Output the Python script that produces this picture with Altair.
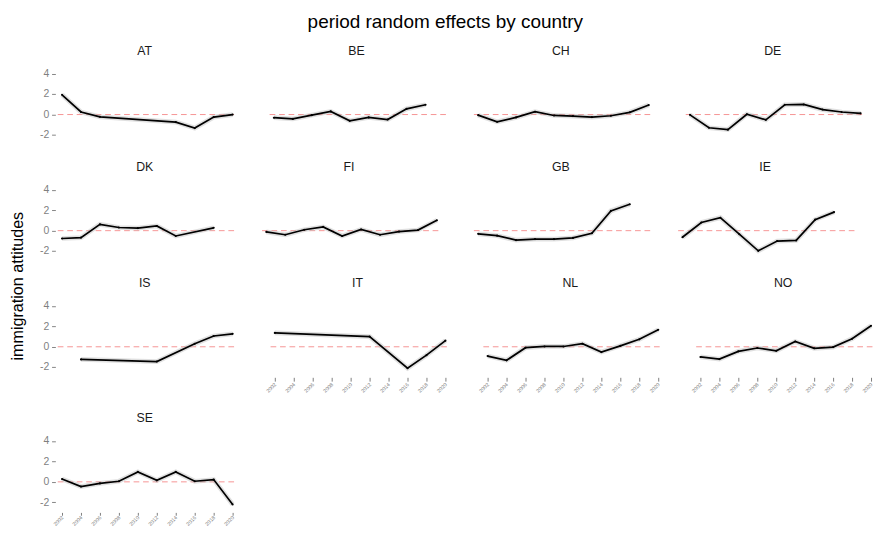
import altair as alt
import pandas as pd

countries = ["AT", "BE", "CH", "DE", "DK", "FI", "GB", "IE", "IS", "IT", "NL", "NO", "SE"]

years = {
    "AT": [2002, 2004, 2006, 2014, 2016, 2018, 2020],
    "BE": [2002, 2004, 2006, 2008, 2010, 2012, 2014, 2016, 2018],
    "CH": [2002, 2004, 2006, 2008, 2010, 2012, 2014, 2016, 2018, 2020],
    "DE": [2002, 2004, 2006, 2008, 2010, 2012, 2014, 2016, 2018, 2020],
    "DK": [2002, 2004, 2006, 2008, 2010, 2012, 2014, 2018],
    "FI": [2002, 2004, 2006, 2008, 2010, 2012, 2014, 2016, 2018, 2020],
    "GB": [2002, 2004, 2006, 2008, 2010, 2012, 2014, 2016, 2018],
    "IE": [2002, 2004, 2006, 2008, 2010, 2012, 2014, 2016, 2018],
    "IS": [2004, 2012, 2016, 2018, 2020],
    "IT": [2002, 2012, 2016, 2018, 2020],
    "NL": [2002, 2004, 2006, 2008, 2010, 2012, 2014, 2016, 2018, 2020],
    "NO": [2002, 2004, 2006, 2008, 2010, 2012, 2014, 2016, 2018, 2020],
    "SE": [2002, 2004, 2006, 2008, 2010, 2012, 2014, 2016, 2018, 2020],
}

effects = {
    "AT": [1.94, 0.25, -0.22, -0.74, -1.33, -0.25, 0.0],
    "BE": [-0.31, -0.43, -0.06, 0.31, -0.62, -0.28, -0.49, 0.56, 0.96],
    "CH": [-0.06, -0.71, -0.28, 0.28, -0.09, -0.15, -0.25, -0.12, 0.22, 0.93],
    "DE": [-0.03, -1.30, -1.48, 0.03, -0.52, 0.96, 0.99, 0.49, 0.25, 0.12],
    "DK": [-0.77, -0.68, 0.62, 0.31, 0.25, 0.46, -0.52, 0.28],
    "FI": [-0.12, -0.40, 0.09, 0.37, -0.52, 0.12, -0.40, -0.09, 0.06, 1.02],
    "GB": [-0.31, -0.49, -0.93, -0.83, -0.83, -0.71, -0.25, 1.94, 2.59],
    "IE": [-0.65, 0.80, 1.27, -0.35, -1.98, -1.02, -0.96, 1.08, 1.82],
    "IS": [-1.24, -1.45, 0.30, 1.06, 1.27],
    "IT": [1.36, 1.00, -2.10, -0.82, 0.60],
    "NL": [-0.91, -1.33, -0.09, 0.03, 0.03, 0.30, -0.52, 0.09, 0.73, 1.67],
    "NO": [-1.00, -1.21, -0.45, -0.12, -0.39, 0.52, -0.15, -0.03, 0.79, 2.06],
    "SE": [0.28, -0.46, -0.15, 0.06, 0.98, 0.15, 0.98, 0.06, 0.22, -2.22],
}

year_ticks = [2002, 2004, 2006, 2008, 2010, 2012, 2014, 2016, 2018, 2020]
y_ticks = [-2, 0, 2, 4]

rows = []
for c in countries:
    for yr, v in zip(years[c], effects[c]):
        rows.append({"country": c, "year": yr, "effect": v})
df = pd.DataFrame(rows)
zero_df = pd.DataFrame({"z": [0]})

FONT = "Liberation Sans"
PW, PH = 188.5, 86
XDOM = [2001.3, 2020.15]
YDOM = [-3.0, 5.0]


def panel(country, show_x, show_y, compact=False):
    if show_x:
        xaxis = alt.Axis(values=year_ticks, labelAngle=315, labelAlign="right",
                         labelBaseline="middle", labelFontSize=5.5, labelColor="#7f7f7f",
                         labelFont=FONT, tickColor="#555555",
                         tickSize=3 if compact else 4, tickWidth=0.8,
                         domain=False, grid=False, title=None,
                         labelPadding=1 if compact else 2,
                         minExtent=14 if compact else 20,
                         labelExpr="datum.value + ''")
    else:
        xaxis = None
    if show_y:
        yaxis = alt.Axis(values=y_ticks, labelFontSize=11, labelColor="#7f7f7f",
                         labelFont=FONT, tickColor="#7f7f7f", tickSize=4, tickWidth=1,
                         domain=False, grid=False, title=None, labelPadding=3,
                         labelExpr="datum.value + ''")
    else:
        yaxis = None
    x = alt.X("year:Q", scale=alt.Scale(domain=XDOM, nice=False, zero=False), axis=xaxis)
    y = alt.Y("effect:Q", scale=alt.Scale(domain=YDOM, nice=False, zero=False), axis=yaxis)
    base = alt.Chart(df).transform_filter(alt.datum.country == country)
    rule = alt.Chart(zero_df).mark_rule(color="#f47c7c", strokeDash=[6, 4], strokeWidth=1,
                                        opacity=0.85).encode(
        y=alt.Y("z:Q", scale=alt.Scale(domain=YDOM, nice=False, zero=False), axis=yaxis)
    )
    halo = base.mark_line(color="#bbbbbb", strokeWidth=5, opacity=0.45).encode(x=x, y=y)
    line = base.mark_line(color="black", strokeWidth=1.8).encode(x=x, y=y)
    pts = base.mark_point(filled=True, color="black", size=5, opacity=1).encode(x=x, y=y)
    return alt.layer(rule, halo, line, pts).properties(
        width=PW, height=PH,
        title=alt.TitleParams(country, fontSize=13, font=FONT, fontWeight="normal",
                              color="#1a1a1a", anchor="middle", offset=6),
    )


bottom_of_col = {"SE", "IT", "NL", "NO"}
grid_rows = []
for r in range(4):
    cs = countries[r * 4:(r + 1) * 4]
    panels = [panel(c, c in bottom_of_col, i == 0, compact=(c == "SE")) for i, c in enumerate(cs)]
    grid_rows.append(alt.hconcat(*panels, spacing=23.5))

grid = alt.vconcat(*grid_rows, spacing=17.5).properties(
    title=alt.TitleParams("immigration attitudes", orient="left", anchor="middle",
                          fontSize=17, font=FONT, fontWeight="normal", color="black", offset=13)
)

chart = alt.vconcat(grid, spacing=0).properties(
    title=alt.TitleParams("period random effects by country", fontSize=20, font=FONT,
                          fontWeight="normal", color="black", anchor="middle", offset=15),
    padding={"left": 2, "top": -10, "right": 0, "bottom": 0},
).configure_view(stroke=None).configure_concat(spacing=0)

chart.save("out.html", embed_options={"renderer": "svg", "actions": False})
